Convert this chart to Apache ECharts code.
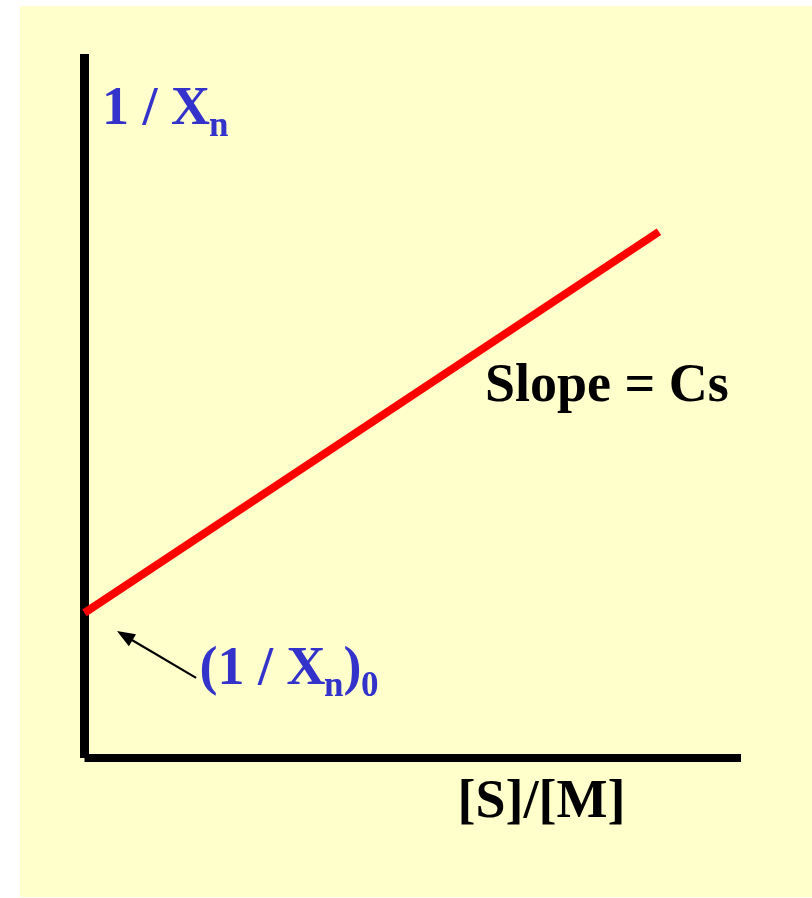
<!DOCTYPE html>
<html>
<head>
<meta charset="utf-8">
<script src="https://cdn.jsdelivr.net/npm/echarts@6/dist/echarts.min.js"></script>
<style>
  html, body { margin: 0; padding: 0; background: #ffffff; }
  #chart { width: 812px; height: 898px; }
</style>
</head>
<body>
<div id="chart"></div>
<script>
// Mayo plot: 1/Xn against [S]/[M] is a straight line,
// intercept (1/Xn)0 and slope Cs.
const xRange = [0, 8];
const yRange = [0, 8];
const ratioSM = [0, 7];           // [S]/[M]
const invXn = [1.65, 5.98];       // 1 / Xn
const arrowTail = [1.36, 0.91];   // annotation arrow pointing at the intercept
const arrowHead = [0.49, 1.39];   // centre of the arrowhead

const serif = '"Liberation Serif", "Times New Roman", serif';
const blue = '#3333cc';

function label(x, y, text, size, color) {
  return {
    type: 'text', x: x, y: y, silent: true,
    style: {
      text: text, fill: color, fontFamily: serif, fontWeight: 'bold',
      fontSize: size, align: 'left', verticalAlign: 'middle'
    }
  };
}

const chart = echarts.init(document.getElementById('chart'), null, { renderer: 'canvas' });
chart.setOption({
  animation: false,
  backgroundColor: '#ffffff',
  grid: { left: 84.5, top: 54, right: 71, bottom: 140, containLabel: false },
  xAxis: {
    type: 'value', min: xRange[0], max: xRange[1],
    axisLine: { show: true, onZero: false, lineStyle: { color: '#000', width: 8, cap: 'butt' } },
    axisTick: { show: false }, axisLabel: { show: false }, splitLine: { show: false }
  },
  yAxis: {
    type: 'value', min: yRange[0], max: yRange[1],
    axisLine: { show: true, onZero: false, lineStyle: { color: '#000', width: 9, cap: 'butt' } },
    axisTick: { show: false }, axisLabel: { show: false }, splitLine: { show: false }
  },
  graphic: [
    { type: 'rect', z: -10, silent: true, shape: { x: 20, y: 6, width: 792, height: 891 },
      style: { fill: '#ffffcc' } },
    // y-axis title: 1 / Xn
    label(102, 110, '1 / X', 54, blue),
    label(209, 127, 'n', 35, blue),
    // intercept label: (1 / Xn)0
    label(199.5, 670, '(1 / X', 54, blue),
    label(324, 687, 'n', 35, blue),
    label(343.5, 670, ')', 54, blue),
    label(361, 687, '0', 35, blue),
    // slope annotation
    label(485, 387, 'Slope = Cs', 54, '#000'),
    // x-axis title
    label(457.5, 803, '[S]/[M]', 54, '#000')
  ],
  series: [{
    type: 'line',
    data: ratioSM.map((x, i) => [x, invXn[i]]),
    showSymbol: false, symbol: 'none', silent: true,
    lineStyle: { color: '#ff0000', width: 8, cap: 'butt' },
    markLine: {
      silent: true, animation: false,
      symbol: ['none', 'triangle'], symbolSize: [14, 18],
      itemStyle: { color: '#000' },
      label: { show: false },
      lineStyle: { color: '#000', width: 2.2, type: 'solid' },
      data: [[{ coord: arrowTail }, { coord: arrowHead }]]
    }
  }]
});
</script>
</body>
</html>
